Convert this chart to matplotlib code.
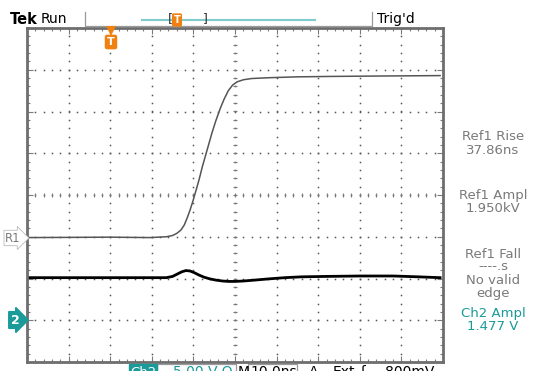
import numpy as np
import matplotlib
matplotlib.use("Agg")
import matplotlib.pyplot as plt

# Ref1 trace (time ns, vertical divisions)
ref1_t = [-49.8, -30.0, -20.4, -16.5, -15.0, -14.0, -13.0, -12.2, -11.5, -10.8,
          -10.1, -9.4, -8.6, -7.9, -7.1, -6.3, -5.5, -4.6, -3.6, -2.6,
          -1.6, -0.6, 0.5, 2.0, 4.0, 8.4, 15.0, 22.8, 35.0, 49.3]
ref1_v = [-1.02, -1.01, -1.02, -1.00, -0.97, -0.92, -0.84, -0.72, -0.55, -0.36,
          -0.14, 0.10, 0.38, 0.66, 0.94, 1.22, 1.50, 1.78, 2.06, 2.30,
          2.50, 2.63, 2.71, 2.76, 2.79, 2.81, 2.83, 2.84, 2.85, 2.86]

# Ch2 trace
ch2_t = [-49.8, -30.0, -16.5, -15.0, -13.8, -12.8, -11.8, -10.8, -9.8, -8.6,
         -7.4, -6.0, -4.5, -3.0, -1.5, 0.0, 2.0, 4.5, 8.0, 12.0,
         16.0, 22.0, 30.0, 38.0, 44.0, 49.3]
ch2_v = [-1.98, -1.98, -1.98, -1.95, -1.89, -1.84, -1.81, -1.82, -1.86, -1.92,
         -1.97, -2.01, -2.04, -2.06, -2.07, -2.07, -2.06, -2.04, -2.01, -1.98,
         -1.96, -1.95, -1.94, -1.94, -1.96, -1.98]

# readouts on the right
meas_labels = ["Ref1 Rise", "37.86ns", "Ref1 Ampl", "1.950kV", "Ref1 Fall",
               "----.s", "No valid", "edge"]
meas_y = [137, 150, 196, 209, 254, 267, 281, 294]
ch2_labels = ["Ch2 Ampl", "1.477 V"]
ch2_y = [314, 327]

GREY = "#7a7a7a"
TEAL = "#1a9a98"
ORANGE = "#f08010"

W, H = 539, 371
fig = plt.figure(figsize=(W / 100, H / 100), dpi=100)

# graticule axes: 10 div x 8 div
L, T, R, B = 27, 28, 443, 362
ax = fig.add_axes([L / W, 1 - B / H, (R - L) / W, (B - T) / H])
ax.set_xlim(-50, 50)
ax.set_ylim(-4, 4)
for s in ax.spines.values():
    s.set_color("#6e6e6e")
    s.set_linewidth(2)
ax.set_xticks(np.arange(-50, 51, 10))
ax.set_xticks(np.arange(-50, 51, 2), minor=True)
ax.set_yticks(np.arange(-4, 4.1, 1))
ax.set_yticks(np.arange(-4, 4.1, 0.2), minor=True)
ax.tick_params(which="both", direction="in", top=True, right=True,
               labelbottom=False, labelleft=False, color=GREY, width=0.8)
ax.tick_params(which="major", length=4)
ax.tick_params(which="minor", length=2)

# dotted grid
xs = np.arange(-50, 50.1, 2)
ys = np.arange(-4, 4.01, 0.2)
for gy in range(-3, 4):
    ax.plot(xs, np.full_like(xs, gy, dtype=float), ls="none", marker="s",
            ms=1.1, mew=0, color="#555555")
for gx in range(-40, 41, 10):
    ax.plot(np.full_like(ys, gx), ys, ls="none", marker="s",
            ms=1.1, mew=0, color="#555555")
# centre cross ticks
ax.plot(xs, np.zeros_like(xs), ls="none", marker="|", ms=3, mew=0.8, color=GREY)
ax.plot(np.zeros_like(ys), ys, ls="none", marker="_", ms=3, mew=0.8, color=GREY)

# traces
ax.plot(ref1_t, ref1_v, color="#555555", lw=1.1)
ax.plot(ch2_t, ch2_v, color="black", lw=2.0)

# overlay in pixel coordinates for the screen annotations
ov = fig.add_axes([0, 0, 1, 1], facecolor="none")
ov.set_xlim(0, W)
ov.set_ylim(H, 0)
ov.axis("off")

ov.text(10, 20, "Tek", fontsize=10.5, fontweight="bold", va="center",
        color="black")
ov.text(41, 19, "Run", fontsize=10, va="center", color="black")
ov.text(377, 19, "Trig'd", fontsize=10, va="center", color="black")
ov.plot([85, 85, 372, 372], [12, 26, 26, 12], color="#9a9a9a", lw=0.9)
ov.plot([142, 315], [20, 20], color="#80cccc", lw=1.5)
ov.text(170, 19, "[", fontsize=9, va="center", ha="center", color="#333333")
ov.text(205, 19, "]", fontsize=9, va="center", ha="center", color="#333333")
ov.text(177, 20, "T", fontsize=7, va="center", ha="center", color="white",
        fontweight="bold",
        bbox=dict(boxstyle="round,pad=0.1", fc=ORANGE, ec=ORANGE))

# trigger position marker
ov.plot([111], [30.5], marker="v", ms=7, color=ORANGE, mew=0)
ov.text(111, 42, "T", fontsize=8, va="center", ha="center", color="white",
        fontweight="bold",
        bbox=dict(boxstyle="round,pad=0.15", fc=ORANGE, ec=ORANGE))

# channel markers
ov.text(13, 238, "R1", fontsize=8.5, va="center", ha="center", color=GREY,
        bbox=dict(boxstyle="rarrow,pad=0.1", fc="white", ec="#bbbbbb", lw=0.6))
ov.text(15, 320, "2", fontsize=9, va="center", ha="center", color="white",
        fontweight="bold",
        bbox=dict(boxstyle="rarrow,pad=0.15", fc=TEAL, ec=TEAL))

# measurement readouts
for lab, y in zip(meas_labels, meas_y):
    ov.text(493, y, lab, fontsize=9.5, ha="center", va="center", color=GREY)
for lab, y in zip(ch2_labels, ch2_y):
    ov.text(493, y, lab, fontsize=9.5, ha="center", va="center", color=TEAL)

# bottom status line (cut off by the image edge, as on the screen)
by = 372
ov.text(143, by, "Ch2", fontsize=9.5, ha="center", va="center", color="white",
        bbox=dict(boxstyle="square,pad=0.1", fc=TEAL, ec=TEAL))
ov.text(173, by, "5.00 V \u03a9", fontsize=10, va="center", color=TEAL)
ov.plot([157, 157, 236, 236], [371, 364, 364, 371], color="#9a9a9a", lw=0.9)
ov.text(238, by, "M", fontsize=10, va="center", color="black")
ov.plot([248, 248, 297, 297], [371, 364, 364, 371], color="#9a9a9a", lw=0.9)
ov.text(250, by, "10.0ns", fontsize=10, va="center", color="black")
ov.text(309, by, "A", fontsize=10, va="center", color="black")
ov.text(333, by, "Ext", fontsize=10, va="center", color="black")
ov.text(360, by, "\u0283", fontsize=10, va="center", color="black")
ov.text(385, by, "800mV", fontsize=10, va="center", color="black")

fig.savefig("out.png", dpi=100)
